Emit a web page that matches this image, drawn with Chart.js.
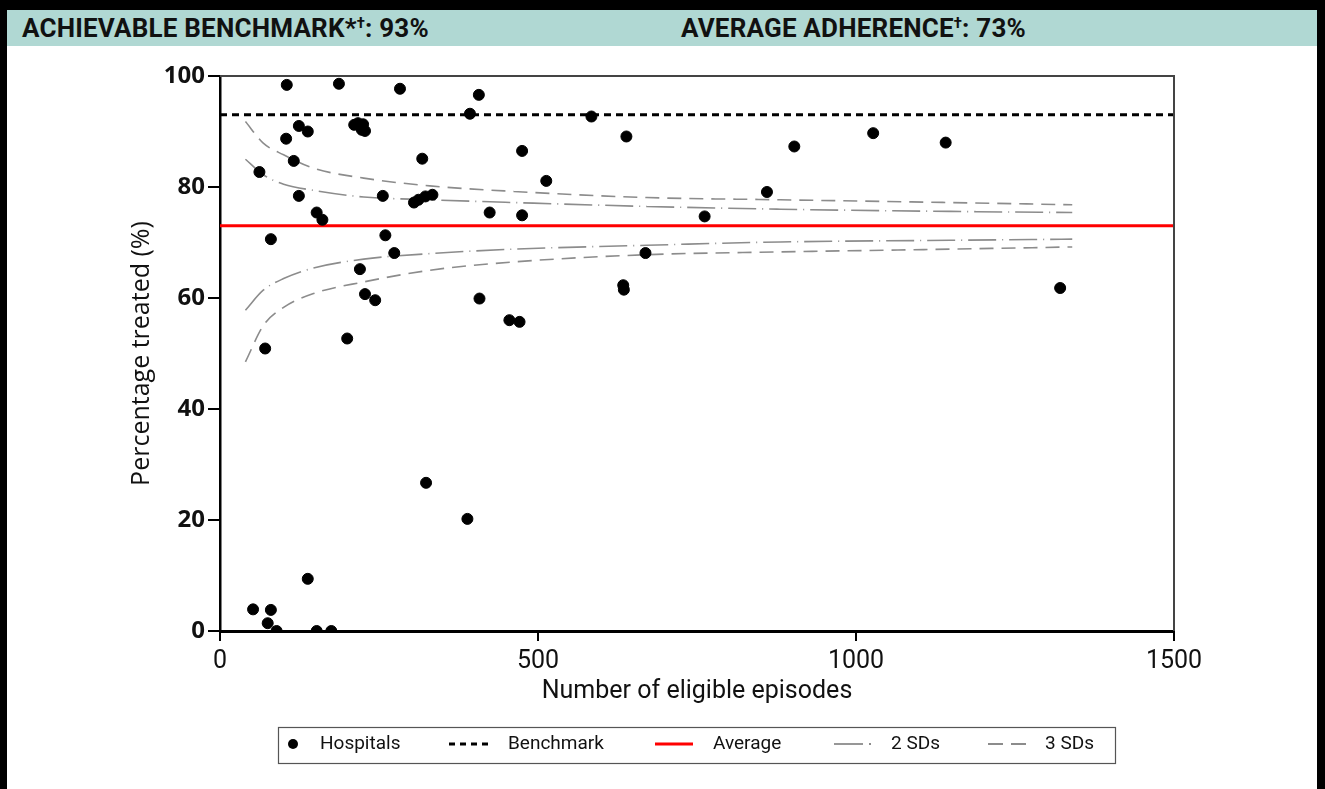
<!DOCTYPE html>
<html>
<head>
<meta charset="utf-8">
<script src="https://cdn.jsdelivr.net/npm/chart.js@4.4.1/dist/chart.umd.min.js"></script>
<style>
  html, body { margin: 0; padding: 0; background: #000; overflow: hidden; }
  #frame { position: absolute; left: 7px; top: 10px; width: 1310px; height: 779px; background: #fff; }
  #head { position: absolute; left: 0; top: 0; width: 1310px; height: 36px; background: #b0d8d3;
          font: bold 26px "Roboto", sans-serif; color: #111; letter-spacing: 0.2px; }
  #head span { position: absolute; top: 3px; }
  #head sup { font-size: 15px; vertical-align: 9px; line-height: 0; }
  #chart { position: absolute; left: 0; top: 35px; }
</style>
</head>
<body>
<div id="frame">
  <div id="head">
    <span style="left:15px">ACHIEVABLE BENCHMARK*<sup>†</sup>: 93%</span>
    <span style="left:674px">AVERAGE ADHERENCE<sup>†</sup>: 73%</span>
  </div>
  <canvas id="chart" width="1310" height="744"></canvas>
</div>
<script>
// hospitals: number of eligible episodes vs percentage treated
const hospX = [105, 187, 283, 407, 393, 584, 124, 138, 211, 217, 225, 223, 228, 104, 116, 62,
  124, 256, 305, 312, 323, 334, 152, 161, 424, 80, 260, 274, 220, 228, 244, 408, 200, 71,
  324, 389, 138, 52, 80, 75, 89, 152, 175, 318, 639, 475, 513, 860, 475, 762, 669, 634, 635,
  455, 471, 903, 1027, 1141, 1321];
const hospY = [98.4, 98.6, 97.7, 96.6, 93.2, 92.7, 91.0, 90.0, 91.2, 91.5, 91.3, 90.3, 90.1, 88.7, 84.7, 82.7,
  78.4, 78.4, 77.2, 77.7, 78.3, 78.6, 75.4, 74.1, 75.4, 70.6, 71.3, 68.1, 65.2, 60.7, 59.6, 59.9, 52.7, 50.9,
  26.7, 20.2, 9.4, 3.9, 3.8, 1.4, 0, 0, 0, 85.1, 89.1, 86.5, 81.1, 79.1, 74.9, 74.7, 68.1, 62.3, 61.5,
  56.0, 55.7, 87.3, 89.7, 88.0, 61.8];

const BENCHMARK = 93;
const AVERAGE = 73;

// control limits
const limitX = [40, 68, 100, 147, 226, 330, 462, 671, 881, 1148, 1340];
const upper2 = [85.0, 82.2, 80.5, 79.4, 78.2, 77.7, 77.2, 76.5, 76.0, 75.6, 75.4];
const lower2 = [57.8, 61.4, 63.5, 65.4, 67.0, 68.0, 68.8, 69.5, 70.1, 70.4, 70.6];
const upper3 = [91.8, 87.9, 85.8, 83.4, 81.6, 80.2, 79.2, 78.1, 77.7, 77.2, 76.8];
const lower3 = [48.5, 55.0, 58.3, 60.8, 62.9, 65.0, 66.5, 67.8, 68.3, 68.8, 69.2];

const xTicks = [0, 500, 1000, 1500];
const yTicks = [0, 20, 40, 60, 80, 100];

const NARROW = '"Roboto", sans-serif';
const WIDE = '"Open Sans", "Lato", sans-serif';
const GREY = '#8c8c8c';
const DASH2 = [28, 6, 1, 6], DASH3 = [14, 8];

const pts = (xs, ys) => xs.map((x, i) => ({ x, y: ys[i] }));
const flat = v => [{ x: 0, y: v }, { x: 1500, y: v }];
const limit = (ys, dash) => ({
  data: pts(limitX, ys), showLine: true, borderColor: GREY, borderWidth: 1.6,
  borderDash: dash, pointRadius: 0, tension: 0.4, cubicInterpolationMode: 'monotone', fill: false
});

// outer box on top/right + legend below the chart
const extras = {
  id: 'extras',
  afterDraw(chart) {
    const c = chart.ctx, a = chart.chartArea;
    c.save();
    c.strokeStyle = '#444'; c.lineWidth = 2;
    c.beginPath();
    c.moveTo(a.left, a.top); c.lineTo(a.right, a.top); c.lineTo(a.right, a.bottom);
    c.stroke();

    const top = 682, bot = 718, mid = 699;
    c.strokeStyle = '#555'; c.lineWidth = 1.2;
    c.strokeRect(271.5, top + 0.5, 837, bot - top);
    c.font = '19px ' + NARROW; c.fillStyle = '#111'; c.textBaseline = 'middle';
    const line = (x0, x1, col, w, dash) => {
      c.beginPath(); c.setLineDash(dash); c.strokeStyle = col; c.lineWidth = w;
      c.moveTo(x0, mid); c.lineTo(x1, mid); c.stroke(); c.setLineDash([]);
    };
    c.beginPath(); c.fillStyle = '#000'; c.arc(286, mid, 5, 0, Math.PI * 2); c.fill();
    c.fillStyle = '#111'; c.fillText('Hospitals', 313, mid);
    line(442, 482, '#000', 3, [6, 5]);
    c.fillText('Benchmark', 501, mid);
    line(648, 686, '#ff0000', 3, []);
    c.fillText('Average', 706, mid);
    line(827, 856, GREY, 1.8, []);
    line(862, 864, GREY, 1.8, []);
    c.fillText('2 SDs', 884, mid);
    line(981, 1020, GREY, 1.8, [15, 8]);
    c.fillText('3 SDs', 1038, mid);
    c.restore();
  }
};

new Chart(document.getElementById('chart'), {
  type: 'scatter',
  data: {
    datasets: [
      { label: 'Hospitals', data: pts(hospX, hospY), backgroundColor: '#000', borderColor: '#000',
        pointRadius: 5.5, pointHoverRadius: 5.5 },
      { label: 'Benchmark', data: flat(BENCHMARK), showLine: true, borderColor: '#000', borderWidth: 3,
        borderDash: [7, 5], pointRadius: 0 },
      { label: 'Average', data: flat(AVERAGE), showLine: true, borderColor: '#ff0000', borderWidth: 3,
        pointRadius: 0 },
      Object.assign({ label: '2 SDs upper' }, limit(upper2, DASH2)),
      Object.assign({ label: '2 SDs lower' }, limit(lower2, DASH2)),
      Object.assign({ label: '3 SDs upper' }, limit(upper3, DASH3)),
      Object.assign({ label: '3 SDs lower' }, limit(lower3, DASH3))
    ]
  },
  options: {
    responsive: false,
    animation: false,
    layout: { padding: { left: 118, top: 31, right: 143, bottom: 78 } },
    plugins: { legend: { display: false }, tooltip: { enabled: false } },
    scales: {
      x: {
        type: 'linear', min: 0, max: 1500,
        afterBuildTicks: s => { s.ticks = xTicks.map(v => ({ value: v })); },
        afterFit: s => { s.height = 80; },
        grid: { drawOnChartArea: false, color: '#000', lineWidth: 2, tickLength: 10 },
        border: { color: '#000', width: 3 },
        ticks: { color: '#111', padding: 6, font: { family: NARROW, size: 25 }, callback: v => String(v) },
        title: { display: true, text: 'Number of eligible episodes', color: '#111',
                 padding: { top: 4, bottom: 4 }, font: { family: NARROW, size: 25 } }
      },
      y: {
        min: 0, max: 100,
        afterBuildTicks: s => { s.ticks = yTicks.map(v => ({ value: v })); },
        afterFit: s => { s.width = 95; },
        grid: { drawOnChartArea: false, color: '#000', lineWidth: 2, tickLength: 12 },
        border: { color: '#000', width: 2.5 },
        ticks: { color: '#111', padding: 3, font: { family: WIDE, size: 24, weight: 'bold' } },
        title: { display: true, text: 'Percentage treated (%)', color: '#111',
                 padding: { top: 2, bottom: 4 }, font: { family: WIDE, size: 25 } }
      }
    }
  },
  plugins: [extras]
});
</script>
</body>
</html>
